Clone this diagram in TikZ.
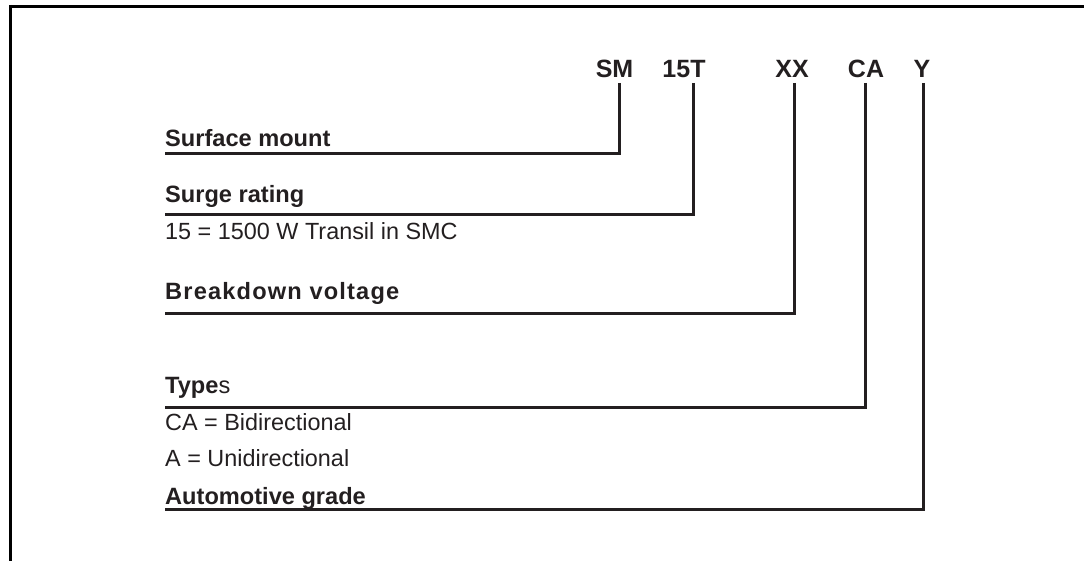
\documentclass[tikz,border=0pt]{standalone}
\usepackage{fontspec}
\setmainfont{Liberation Sans}
\definecolor{ink}{RGB}{35,31,32}
\begin{document}
\begin{tikzpicture}[x=1pt,y=1pt,
  code/.style={anchor=base,inner sep=0pt,text=ink,font=\fontsize{25}{30}\selectfont\bfseries},
  lbl/.style={anchor=base west,inner sep=0pt,text=ink,font=\fontsize{23.6}{28}\selectfont\bfseries},
  txt/.style={anchor=base west,inner sep=0pt,text=ink,font=\fontsize{23.4}{28}\selectfont},
  lead/.style={draw=ink,line width=3pt},
  frame/.style={draw=black,line width=3.2pt}]
\useasboundingbox (0,0) rectangle (1084,-561);
% frame
\coordinate (ftr) at (1084,-6.5);
\coordinate (ftl) at (9,-6.5);
\coordinate (fll) at (10.5,-5);
\coordinate (flb) at (10.5,-561);
\draw[frame] (ftl) -- (ftr);
\draw[frame] (fll) -- (flb);
% codes
\node[code] (sm)  at (614.5,-78) {SM};
\node[code] (t15) at (684,-78) {15T};
\node[code] (xx)  at (792,-78) {XX};
\node[code] (ca)  at (866,-78) {CA};
\node[code] (y)   at (922,-78) {Y};
% labels
\node[lbl] (lsm) at (165,-147) {Surface mount};
\node[lbl] (lsr) at (165,-203) {Surge rating};
\node[txt] (tsr) at (165,-240) {15 = 1500 W Transil in SMC};
\node[lbl] (lbv) at (165,-300) {\addfontfeatures{LetterSpace=5}Breakdown voltage};
\node[lbl] (lty) at (165,-393) {Type\mdseries s};
\node[txt] (tca) at (165,-430) {CA = Bidirectional};
\node[txt] (ta)  at (165,-466) {A = Unidirectional};
\node[lbl] (lag) at (165,-504) {Automotive grade};
% leader coordinates
\coordinate (c1) at (619,-83);   \coordinate (e1) at (165,-154);
\coordinate (c2) at (693,-83);   \coordinate (e2) at (165,-215);
\coordinate (c3) at (794,-83);   \coordinate (e3) at (165,-313);
\coordinate (c4) at (865.5,-83); \coordinate (e4) at (165,-407);
\coordinate (c5) at (923,-83);   \coordinate (e5) at (165,-509.5);
\draw[lead] (c1) |- (e1);
\draw[lead] (c2) |- (e2);
\draw[lead] (c3) |- (e3);
\draw[lead] (c4) |- (e4);
\draw[lead] (c5) |- (e5);
\end{tikzpicture}
\end{document}
